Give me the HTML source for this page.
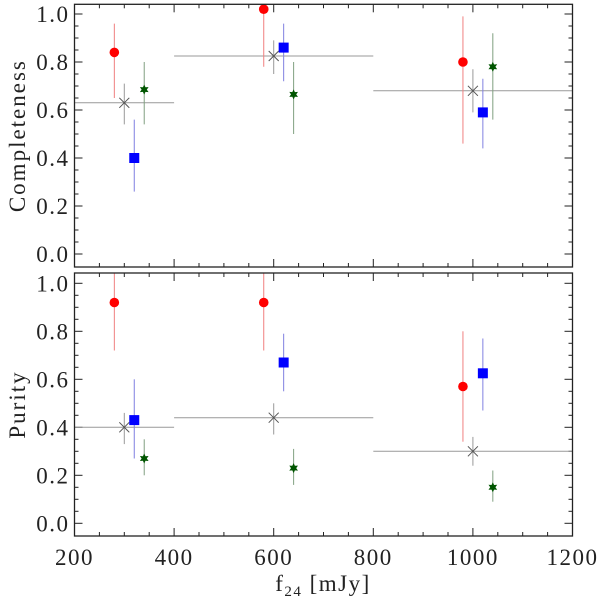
<!DOCTYPE html>
<html><head><meta charset="utf-8"><style>
html,body{margin:0;padding:0;background:#fff;}
svg text{font-family:"Liberation Serif","DejaVu Serif",serif;fill:#222;}
</style></head><body>
<svg id="chart" width="600" height="600" xmlns="http://www.w3.org/2000/svg"></svg>
<script>
const xTicks=[200,400,600,800,1000,1200];
const yTicks=[0.0,0.2,0.4,0.6,0.8,1.0];
const redX=[280,580,980];
const blueX=[320,620,1020];
const greenX=[340,640,1040];
const grayX=[300,600,1000];
const grayXLo=[200,400,800];
const grayXHi=[400,800,1200];
const compRed=[0.84,1.02,0.80];const compRedLo=[0.65,0.78,0.46];const compRedHi=[0.96,1.05,0.99];
const compBlue=[0.40,0.86,0.59];const compBlueLo=[0.26,0.72,0.44];const compBlueHi=[0.56,0.96,0.73];
const compGreen=[0.685,0.665,0.78];const compGreenLo=[0.54,0.50,0.56];const compGreenHi=[0.80,0.80,0.92];
const compGray=[0.63,0.825,0.68];const compGrayLo=[0.54,0.75,0.59];const compGrayHi=[0.71,0.89,0.77];
const purRed=[0.92,0.92,0.57];const purRedLo=[0.72,0.72,0.34];const purRedHi=[1.05,1.05,0.80];
const purBlue=[0.43,0.67,0.625];const purBlueLo=[0.27,0.55,0.47];const purBlueHi=[0.60,0.79,0.77];
const purGreen=[0.27,0.23,0.15];const purGreenLo=[0.20,0.16,0.09];const purGreenHi=[0.35,0.31,0.22];
const purGray=[0.40,0.44,0.30];const purGrayLo=[0.33,0.37,0.24];const purGrayHi=[0.46,0.50,0.36];

const svg=document.getElementById('chart');
const NS='http://www.w3.org/2000/svg';
const L=74.5,R=572.5;
const sx=v=>L+(v-200)*(R-L)/1000;
function mk(t,a,parent){const e=document.createElementNS(NS,t);for(const k in a)e.setAttribute(k,a[k]);(parent||svg).appendChild(e);return e;}

function panel(top,bot,zeroY,name,label,data){
  const sy=v=>zeroY-v*240;
  const g=mk('g',{});
  
  
  const clipId='clip-'+name;
  const cp=mk('clipPath',{id:clipId},g);mk('rect',{x:L,y:top,width:R-L,height:bot-top},cp);
  for(let v=200;v<=1200;v+=50){
    const major=(v%200===0);const len=major?8:4;
    mk('line',{x1:sx(v),x2:sx(v),y1:bot,y2:bot-len,stroke:'#222','stroke-width':1},g);
    mk('line',{x1:sx(v),x2:sx(v),y1:top,y2:top+len,stroke:'#222','stroke-width':1},g);
  }
  for(let i=0;i<=20;i++){const v=i*0.05;const major=(i%4===0);const len=major?8:4;
    const y=sy(v);if(y<top||y>bot)continue;
    mk('line',{x1:L,x2:L+len,y1:y,y2:y,stroke:'#222','stroke-width':1},g);
    mk('line',{x1:R,x2:R-len,y1:y,y2:y,stroke:'#222','stroke-width':1},g);
  }
  yTicks.forEach(v=>{const t=mk('text',{x:L-5,y:sy(v)+8,'text-anchor':'end','font-size':23,'letter-spacing':1.5},g);t.textContent=v.toFixed(1);
    
    });
  const yl=mk('text',{x:0,y:0,'text-anchor':'middle','font-size':23,'letter-spacing':2,transform:`translate(25,${(top+bot)/2}) rotate(-90)`},g);
  yl.textContent=label;
  
  
  const pg=mk('g',{'clip-path':`url(#${clipId})`},g);
  const [gx,gv,glo,ghi]=data.gray;
  gx.forEach((x,i)=>{
    mk('line',{x1:sx(grayXLo[i]),x2:sx(grayXHi[i]),y1:sy(gv[i]),y2:sy(gv[i]),stroke:'#999','stroke-width':1},pg);
    mk('line',{x1:sx(x),x2:sx(x),y1:sy(glo[i]),y2:sy(ghi[i]),stroke:'#999','stroke-width':1},pg);
    const c=mk('path',{d:`M${sx(x)-5},${sy(gv[i])-5}L${sx(x)+5},${sy(gv[i])+5}M${sx(x)-5},${sy(gv[i])+5}L${sx(x)+5},${sy(gv[i])-5}`,stroke:'#555','stroke-width':1,fill:'none'},pg);
    
    
  });
  const series=[['red',data.red,'#f08080','#ff0000'],['blue',data.blue,'#8080e0','#0000ff'],['green',data.green,'#80a080','#005500']];
  series.forEach(([nm,[xs,vs,lo,hi],ec,fc])=>{
    xs.forEach((x,i)=>{
      mk('line',{x1:sx(x),x2:sx(x),y1:sy(lo[i]),y2:sy(hi[i]),stroke:ec,'stroke-width':1},pg);
      const cx=sx(x),cy=sy(vs[i]);let m;
      if(nm==='red')m=mk('circle',{cx,cy,r:4.8,fill:fc},pg);
      else if(nm==='blue')m=mk('rect',{x:cx-5,y:cy-5,width:10,height:10,fill:fc},pg);
      else{const p=[];for(let k=0;k<12;k++){const r=k%2?2.6:5;const a=Math.PI/6*k-Math.PI/2;p.push((cx+r*Math.cos(a)).toFixed(1)+','+(cy+r*Math.sin(a)).toFixed(1));}
        m=mk('polygon',{points:p.join(' '),fill:fc},pg);}
      
      
    });
  });
  mk('rect',{x:L,y:top,width:R-L,height:bot-top,fill:'none',stroke:'#222','stroke-width':1.3},g);
}
panel(4.3,267,254,'completeness','Completeness',{
  red:[redX,compRed,compRedLo,compRedHi],blue:[blueX,compBlue,compBlueLo,compBlueHi],
  green:[greenX,compGreen,compGreenLo,compGreenHi],gray:[grayX,compGray,compGrayLo,compGrayHi]});
panel(273,536,523.3,'purity','Purity',{
  red:[redX,purRed,purRedLo,purRedHi],blue:[blueX,purBlue,purBlueLo,purBlueHi],
  green:[greenX,purGreen,purGreenLo,purGreenHi],gray:[grayX,purGray,purGrayLo,purGrayHi]});
xTicks.forEach(v=>{const t=mk('text',{x:sx(v),y:565,'text-anchor':'middle','font-size':23,'letter-spacing':1.5});t.textContent=v;
  
  });
const xl=mk('text',{x:323,y:591,'text-anchor':'middle','font-size':23,'letter-spacing':1.5});
xl.innerHTML='f<tspan font-size="15" dy="5">24</tspan><tspan dy="-5"> [mJy]</tspan>';


</script>
</body></html>
